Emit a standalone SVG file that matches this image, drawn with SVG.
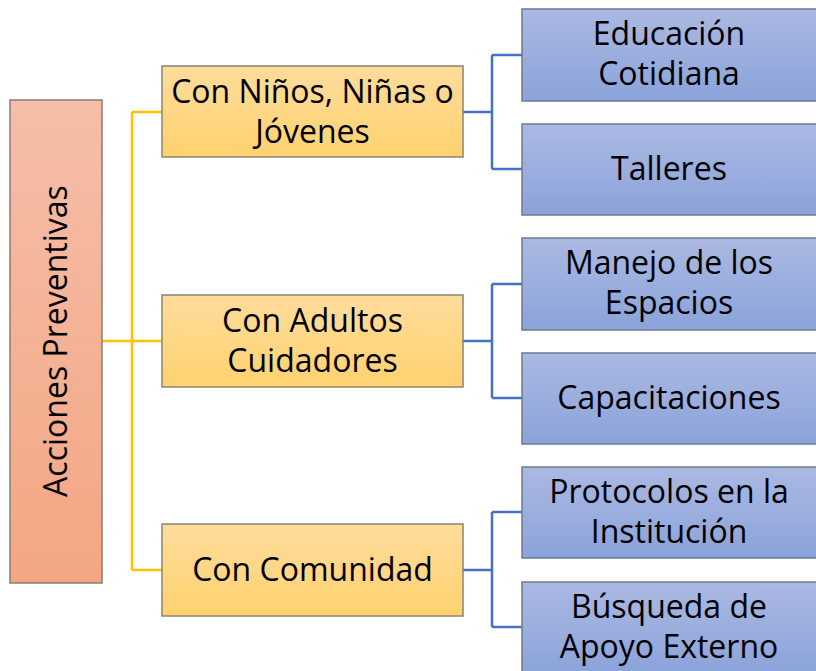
<svg xmlns="http://www.w3.org/2000/svg" width="816" height="671" viewBox="0 0 816 671">
<defs>
<linearGradient id="gRoot" x1="0" y1="0" x2="0" y2="1"><stop offset="0" stop-color="#F5BEA8"/><stop offset="1" stop-color="#F4A683"/></linearGradient>
<linearGradient id="gMid" x1="0" y1="0" x2="0" y2="1"><stop offset="0" stop-color="#FFDC9C"/><stop offset="1" stop-color="#FFD26F"/></linearGradient>
<linearGradient id="gLeaf" x1="0" y1="0" x2="0" y2="1"><stop offset="0" stop-color="#ABB9E2"/><stop offset="1" stop-color="#8BA3DA"/></linearGradient>
</defs>
<style>
.root{fill:url(#gRoot);stroke:#8C7B72;stroke-width:1.5}
.mid{fill:url(#gMid);stroke:#8C8470;stroke-width:1.5}
.leaf{fill:url(#gLeaf);stroke:#6F7A92;stroke-width:1.5}
text{font-family:"Open Sans","Liberation Sans",Arial,sans-serif;font-size:32px;fill:#000;text-anchor:middle}
.y{fill:none;stroke:#FFC000;stroke-width:2.5}
.b{fill:none;stroke:#4472C4;stroke-width:2.5}
</style>
<rect width="816" height="671" fill="#fff"/>
<g id="connectors">
<path class="y" d="M102 341H132M132 112V570M132 112H162M132 341H162M132 570H162"/>
<path class="b" d="M463 112H492M492 55V169M492 55H522M492 169H522"/>
<path class="b" d="M463 341H492M492 284V398M492 284H522M492 398H522"/>
<path class="b" d="M463 570H492M492 512V627M492 512H522M492 627H522"/>
</g>
<g id="root">
<rect class="root" x="10" y="100" width="92" height="483"/>
<text transform="translate(67 341) rotate(-90)">Acciones Preventivas</text>
</g>
<g id="mid1">
<rect class="mid" x="162" y="66" width="301" height="91"/>
<text x="312.5" y="103">Con Niños, Niñas o</text>
<text x="312.5" y="143">Jóvenes</text>
</g>
<g id="mid2">
<rect class="mid" x="162" y="295" width="301" height="92"/>
<text x="312.5" y="332">Con Adultos</text>
<text x="312.5" y="372">Cuidadores</text>
</g>
<g id="mid3">
<rect class="mid" x="162" y="524" width="301" height="92"/>
<text x="312.5" y="581">Con Comunidad</text>
</g>
<g id="leaf1">
<rect class="leaf" x="522" y="9" width="300" height="92"/>
<text x="669" y="45">Educación</text>
<text x="669" y="85">Cotidiana</text>
</g>
<g id="leaf2">
<rect class="leaf" x="522" y="124" width="300" height="91"/>
<text x="669" y="180">Talleres</text>
</g>
<g id="leaf3">
<rect class="leaf" x="522" y="238" width="300" height="92"/>
<text x="669" y="274">Manejo de los</text>
<text x="669" y="314">Espacios</text>
</g>
<g id="leaf4">
<rect class="leaf" x="522" y="353" width="300" height="91"/>
<text x="669" y="409">Capacitaciones</text>
</g>
<g id="leaf5">
<rect class="leaf" x="522" y="467" width="300" height="91"/>
<text x="669" y="503">Protocolos en la</text>
<text x="669" y="543">Institución</text>
</g>
<g id="leaf6">
<rect class="leaf" x="522" y="582" width="300" height="92"/>
<text x="669" y="618">Búsqueda de</text>
<text x="669" y="658">Apoyo Externo</text>
</g>
</svg>
